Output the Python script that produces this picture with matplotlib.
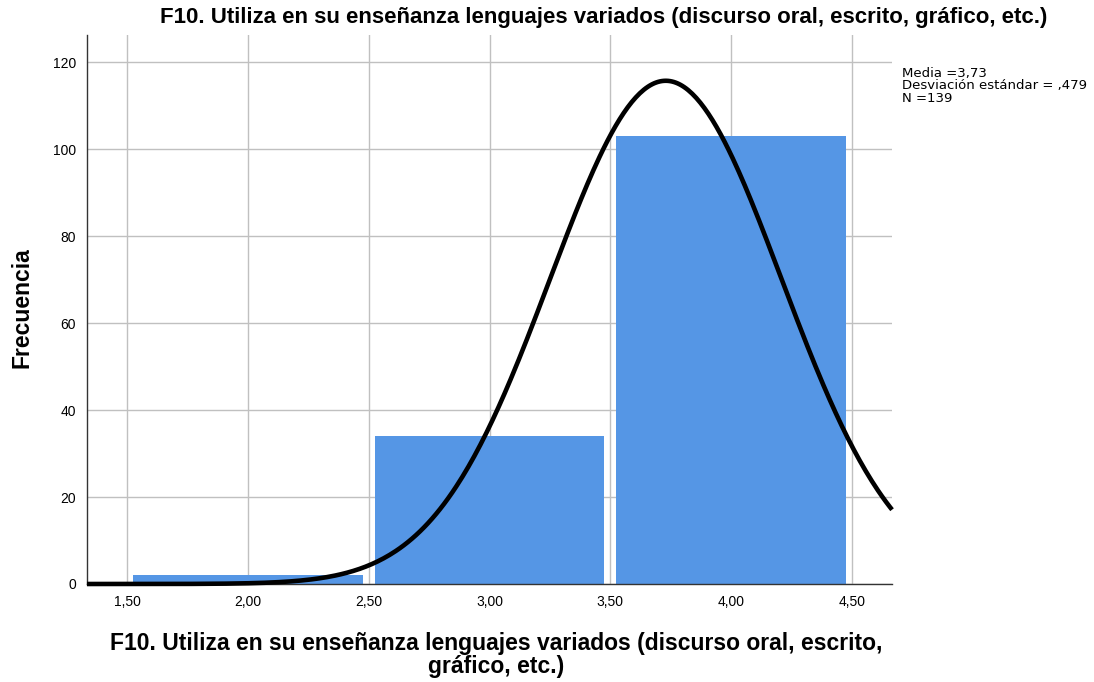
import numpy as np
import matplotlib
matplotlib.use("Agg")
import matplotlib.pyplot as plt

plt.rcParams['font.family'] = ['Liberation Sans', 'DejaVu Sans']

# Histogram data (bin centres and frequencies)
bin_centers = [2.0, 3.0, 4.0]
frequencies = [2, 34, 103]
bin_width = 1.0

# Summary statistics
mean = 3.73
std = 0.479
n = 139

x_ticks = [1.5, 2.0, 2.5, 3.0, 3.5, 4.0, 4.5]
x_tick_labels = ["1,50", "2,00", "2,50", "3,00", "3,50", "4,00", "4,50"]
y_ticks = [0, 20, 40, 60, 80, 100, 120]

title = "F10. Utiliza en su enseñanza lenguajes variados (discurso oral, escrito, gráfico, etc.)"
xlabel = "F10. Utiliza en su enseñanza lenguajes variados (discurso oral, escrito,\ngráfico, etc.)"
stats_lines = ["Media =3,73", "Desviación estándar = ,479", "N =139"]

fig = plt.figure(figsize=(10.94, 6.82), dpi=100)
ax = fig.add_axes([0.0795, 0.1437, 0.7359, 0.805])

ax.bar(bin_centers, frequencies, width=0.95 * bin_width, color="#5596E5",
       zorder=2)

# Fitted normal curve scaled to the counts
xs = np.linspace(1.333, 4.667, 400)
pdf = n * bin_width / (std * np.sqrt(2 * np.pi)) * np.exp(-0.5 * ((xs - mean) / std) ** 2)
ax.plot(xs, pdf, color="black", linewidth=3.3, zorder=3, clip_on=False,
        solid_capstyle="butt")

ax.set_xlim(1.333, 4.667)
ax.set_ylim(0, 126.3)
ax.set_xticks(x_ticks)
ax.set_xticklabels(x_tick_labels)
ax.set_yticks(y_ticks)
ax.tick_params(length=0, labelsize=10, pad=8)
ax.grid(True, color="#c0c0c0", linewidth=1.0, zorder=0)
ax.set_axisbelow(True)
for s in ["top", "right"]:
    ax.spines[s].set_visible(False)
for s in ["left", "bottom"]:
    ax.spines[s].set_color("#333333")
    ax.spines[s].set_linewidth(1.0)

fig.text(604 / 1094, 1 - 18 / 682, title, ha="center", va="center",
         fontsize=16, fontweight="bold")
fig.text(496 / 1094, 1 - 655 / 682, xlabel, ha="center", va="center",
         fontsize=16.5, fontweight="bold", linespacing=0.99)
fig.text(22 / 1094, 1 - 308 / 682, "Frecuencia", ha="center", va="center",
         rotation=90, fontsize=16.5, fontweight="bold")

for i, line in enumerate(stats_lines):
    fig.text(902 / 1094, 1 - (76.5 + 13.0 * i) / 682, line, ha="left",
             va="baseline", fontsize=9.5, family="DejaVu Sans")

fig.savefig("out.png", dpi=100)
